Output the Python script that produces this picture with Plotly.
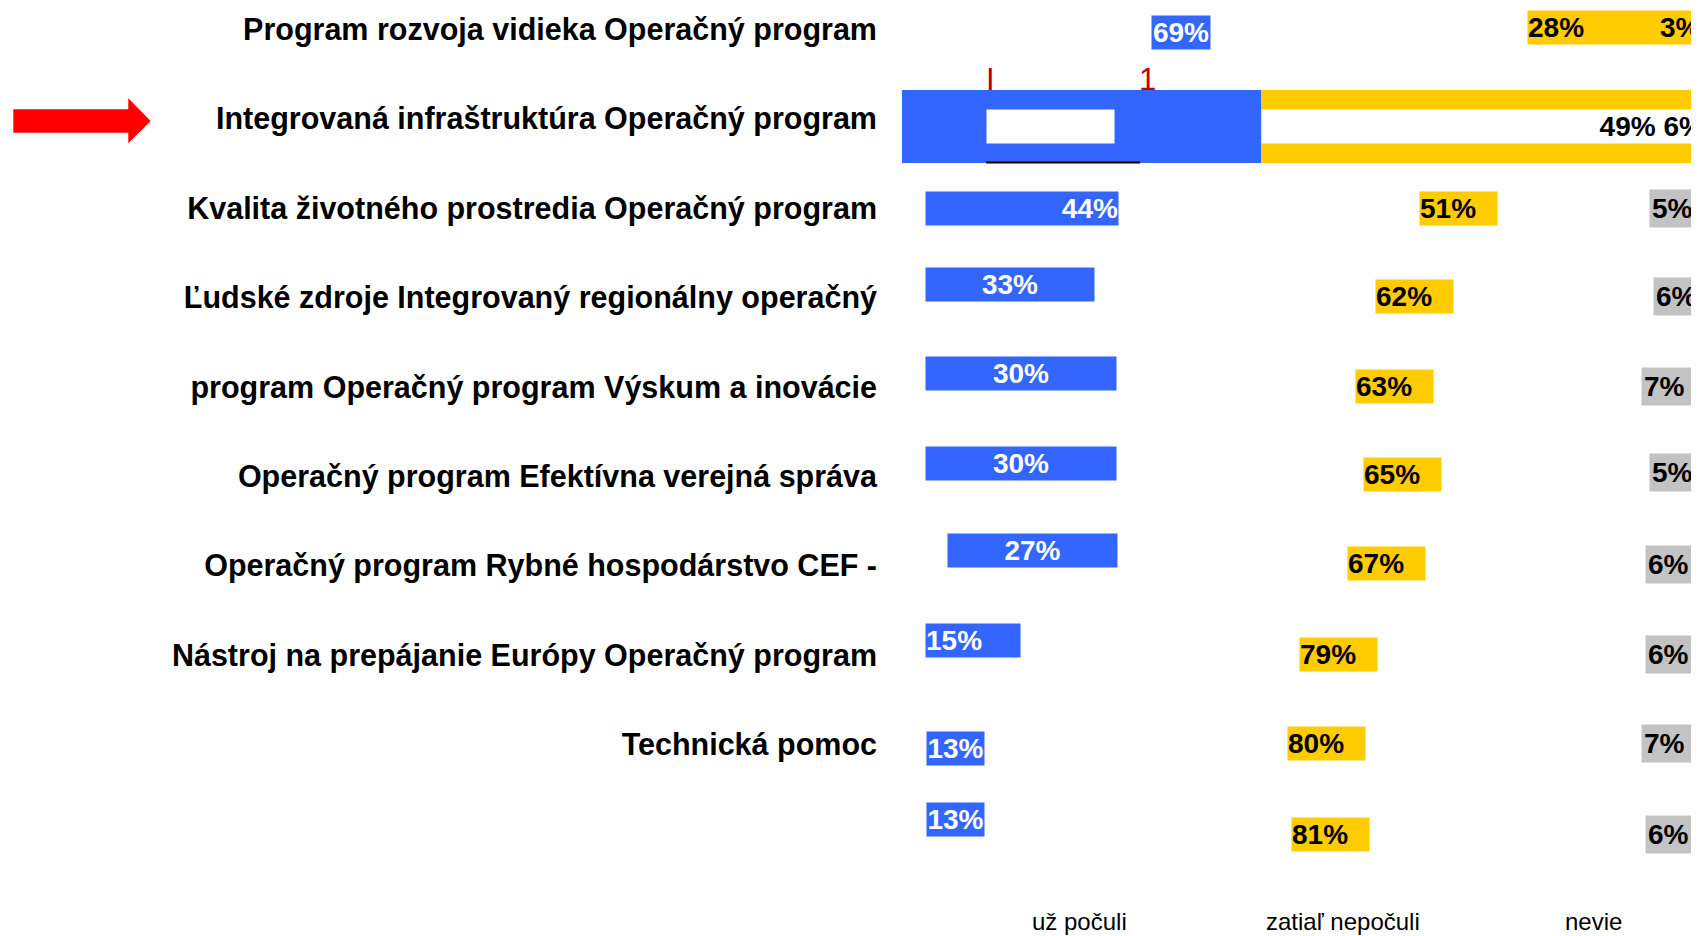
import plotly.graph_objects as go

# ---------------- data ----------------
categories = [
    "Program rozvoja vidieka Operačný program",
    "Integrovaná infraštruktúra Operačný program",
    "Kvalita životného prostredia Operačný program",
    "Ľudské zdroje Integrovaný regionálny operačný",
    "program Operačný program Výskum a inovácie",
    "Operačný program Efektívna verejná správa",
    "Operačný program Rybné hospodárstvo CEF -",
    "Nástroj na prepájanie Európy Operačný program",
    "Technická pomoc",
    "",
]
uz_poculi = [69, 45, 44, 33, 30, 30, 27, 15, 13, 13]
zatial_nepoculi = [28, 49, 51, 62, 63, 65, 67, 79, 80, 81]
nevie = [3, 6, 5, 6, 7, 5, 6, 6, 7, 6]
series_names = ["už počuli", "zatiaľ nepočuli", "nevie"]
highlight = "Integrovaná infraštruktúra Operačný program"

# ---------------- style ----------------
BODY = 8                      # default page margin around the plot div
W, H = 1699 - BODY, 936 - BODY
ML = 880 - BODY               # plot area starts at page x = 880
PW = W - ML
PH = 870 - BODY               # plot area ends at page y = 870
MB = H - PH
BLUE, YELLOW, GRAY, RED = "#3366FF", "#FFCC00", "#C3C3C3", "#FF0000"
FONT = "Liberation Sans, Arial, sans-serif"
CAT_SIZE, VAL_SIZE, LEG_SIZE = 30.5, 28, 24
BOX_H = 33
# per-row look of the blue value boxes (width px, x shift px, y shift px, text align)
blue_box_w = [58, 127, 192, 168, 190, 190, 169, 94, 57, 57]
blue_box_dx = [4, -31, -55, -23, 0, 0, 23, 12, 2, 2]
blue_box_dy = [-3, 0, 0, 13, 13, 13, 15, 15, -4, 14]
blue_box_align = ["center", "center", "right", "center", "center", "center",
                  "center", "left", "center", "center"]
yellow_dy = [2, 0, 0, 1, 0, 2, 2, 1, 1, -1]
gray_dy = [0, 0, 0, 1, 0, 4, 1, 1, 1, -1]

n = len(categories)
h = categories.index(highlight)
rows = list(range(n))
HL_DY = -7.6  # highlighted bar sits slightly below its label row

fig = go.Figure()

# the highlighted row drawn as a stacked bar
bar_colors = [BLUE, YELLOW, YELLOW]
for name, vals, col in zip(series_names, [uz_poculi, zatial_nepoculi, nevie], bar_colors):
    fig.add_trace(go.Bar(
        y=[h], x=[vals[h]], name=name, orientation="h",
        marker=dict(color=col, line=dict(width=0)),
        width=0.81, offset=-0.32, showlegend=False, hoverinfo="x+name",
    ))

annotations = []
for i in rows:
    b, y_, g = uz_poculi[i], zatial_nepoculi[i], nevie[i]
    # blue value label
    annotations.append(dict(
        x=b / 2, y=i, xref="x", yref="y", text=f"{b}%", showarrow=False,
        xanchor="center", yanchor="middle",
        xshift=blue_box_dx[i], yshift=(HL_DY if i == h else blue_box_dy[i]),
        width=blue_box_w[i], height=BOX_H, align=blue_box_align[i], borderpad=0,
        bgcolor=("#FFFFFF" if i == h else BLUE),
        font=dict(family=FONT, size=VAL_SIZE, color="#FFFFFF", weight="bold"),
    ))
    if i == h:
        annotations.append(dict(
            x=b, y=i, xref="x", yref="y", text=f"{y_}% {g}%", showarrow=False,
            xanchor="left", yanchor="middle", yshift=HL_DY,
            width=442, height=BOX_H, align="right", borderpad=0, bgcolor="#FFFFFF",
            font=dict(family=FONT, size=VAL_SIZE, color="#000000", weight="bold"),
        ))
        continue
    # yellow value label
    annotations.append(dict(
        x=b + y_ / 2, y=i, xref="x", yref="y", text=f"{y_}%", showarrow=False,
        xanchor="left", yanchor="middle", xshift=-38, yshift=yellow_dy[i],
        width=(200 if i == 0 else 77), height=BOX_H, align="left", borderpad=0,
        bgcolor=YELLOW,
        font=dict(family=FONT, size=VAL_SIZE, color="#000000", weight="bold"),
    ))
    # gray value label
    annotations.append(dict(
        x=b + y_ + g / 2, y=i, xref="x", yref="y", text=f"{g}%", showarrow=False,
        xanchor="left", yanchor="middle", xshift=-32,
        yshift=(yellow_dy[i] if i == 0 else gray_dy[i]),
        width=72, height=BOX_H, align="left", borderpad=2,
        bgcolor=("rgba(0,0,0,0)" if i == 0 else GRAY),
        font=dict(family=FONT, size=VAL_SIZE, color="#000000", weight="bold"),
    ))

# small red marks above the highlighted bar
for xv, t in [(11.2, "I"), (30.85, "1")]:
    annotations.append(dict(
        x=xv, y=h - 0.32, xref="x", yref="y", text=t, showarrow=False,
        xanchor="center", yanchor="bottom", yshift=-8.5,
        font=dict(family=FONT, size=31, color="#C00000"),
    ))

# series names under the chart
for xv, t in zip([22.3, 55.2, 86.6], series_names):
    annotations.append(dict(
        x=xv, y=0, xref="x", yref="paper", text=t, showarrow=False,
        xanchor="center", yanchor="middle", yshift=-51,
        font=dict(family=FONT, size=LEG_SIZE, color="#000000"),
    ))

shapes = []
# thin black line under the highlighted bar
shapes.append(dict(type="line", xref="x", yref="y", x0=10.6, x1=29.85,
                   y0=h + 0.49, y1=h + 0.49, line=dict(color="#000000", width=2)))


def to_paper(xp, yp):
    """page pixel -> paper coordinates of the plot area"""
    return (xp - BODY - ML) / PW, (PH - (yp - BODY)) / PH


pts = [(13.3, 109.3), (128.3, 109.3), (128.3, 98.3), (150.7, 121),
       (128.3, 143.3), (128.3, 132.7), (13.3, 132.7)]
path = "M " + " L ".join("{:.5f},{:.5f}".format(*to_paper(a, c)) for a, c in pts) + " Z"
shapes.append(dict(type="path", xref="paper", yref="paper", path=path,
                   fillcolor=RED, line=dict(width=0)))

row_pitch = 89.4
first_row_y = 29.3 - BODY
ymin = -first_row_y / row_pitch
ymax = ymin + PH / row_pitch
x0 = 901.5 - BODY            # page x of 0 %
xscale = 7.99                # px per %

fig.update_layout(
    width=W, height=H,
    margin=dict(l=ML, r=0, t=0, b=MB, pad=0),
    paper_bgcolor="#FFFFFF", plot_bgcolor="#FFFFFF",
    barmode="stack", bargap=0,
    showlegend=False,
    xaxis=dict(range=[(ML - x0) / xscale, (W - x0) / xscale], visible=False,
               showgrid=False, zeroline=False, fixedrange=True),
    yaxis=dict(range=[ymax, ymin], tickmode="array", tickvals=rows, ticktext=categories,
               showgrid=False, zeroline=False, showline=False, ticks="",
               ticklabelstandoff=2,
               tickfont=dict(family=FONT, size=CAT_SIZE, color="#000000", weight="bold")),
    annotations=annotations,
    shapes=shapes,
)

fig.write_html("out.html")
